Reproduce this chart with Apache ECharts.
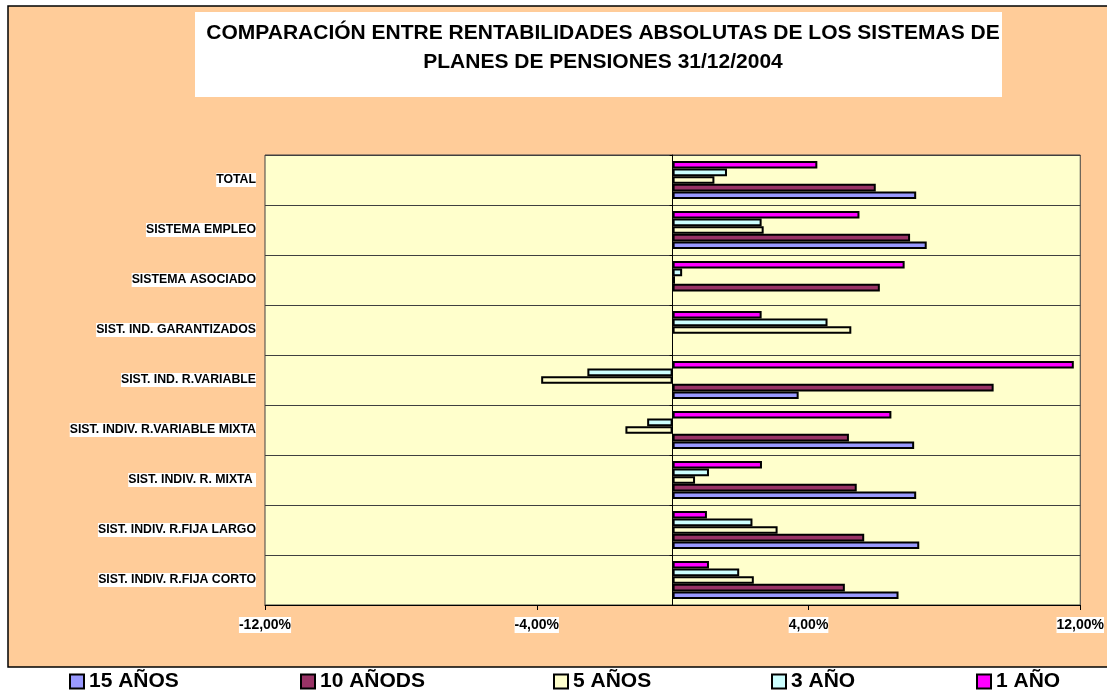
<!DOCTYPE html>
<html>
<head>
<meta charset="utf-8">
<script src="https://cdn.jsdelivr.net/npm/echarts@6/dist/echarts.min.js"></script>
<style>
html,body{margin:0;padding:0;background:#fff;}
#c{width:1107px;height:693px;}
</style>
</head>
<body>
<div id="c"></div>
<script>
var titleText = 'COMPARACIÓN ENTRE RENTABILIDADES ABSOLUTAS DE LOS SISTEMAS DE\nPLANES DE PENSIONES 31/12/2004';
var categories = ['SIST. INDIV. R.FIJA CORTO','SIST. INDIV. R.FIJA LARGO','SIST. INDIV. R. MIXTA ','SIST. INDIV. R.VARIABLE MIXTA','SIST. IND. R.VARIABLE','SIST. IND. GARANTIZADOS','SISTEMA ASOCIADO','SISTEMA EMPLEO','TOTAL'];
var seriesNames = ['15 AÑOS','10 AÑODS','5 AÑOS','3 AÑO','1 AÑO'];
var anos15 = [6.65, 7.26, 7.17, 7.11, 3.71, null, null, 7.48, 7.17];
var anos10 = [5.07, 5.64, 5.42, 5.19, 9.45, null, 6.10, 6.99, 5.98];
var anos5  = [2.39, 3.09, 0.66, -1.39, -3.87, 5.26, 0.07, 2.68, 1.23];
var ano3   = [1.96, 2.35, 1.07, -0.75, -2.51, 4.56, 0.28, 2.62, 1.60];
var ano1   = [1.07, 1.01, 2.63, 6.44, 11.81, 2.62, 6.83, 5.50, 4.26];
var xTicks = {min: -12, max: 12, interval: 8};

var colors = ['#9999FF','#993366','#FFFFCC','#CCFFFF','#FF00FF'];
var values = [anos15, anos10, anos5, ano3, ano1];
var legendLefts = [69, 300, 553, 771, 976];
var FONT = '"Liberation Sans", Arial, sans-serif';

// ECharts lays horizontal bars top-down in series order; reference has 15 AÑOS at bottom
var series = [];
for (var i = seriesNames.length - 1; i >= 0; i--) {
  series.push({
    name: seriesNames[i], type: 'bar', yAxisIndex: 0, data: values[i],
    barGap: '0%', barCategoryGap: '24%',
    itemStyle: {color: colors[i], borderColor: '#000', borderWidth: 2},
    emphasis: {disabled: true}
  });
}

var legends = seriesNames.map(function(n, i){
  return {
    data: [n], left: legendLefts[i], top: 671, padding: 0,
    itemWidth: 14, itemHeight: 14, icon: 'rect', itemStyle: {borderColor: '#000', borderWidth: 2},
    textStyle: {fontFamily: FONT, fontSize: 21, fontWeight: 'bold', color: '#000'}
  };
});

var chart = echarts.init(document.getElementById('c'));
chart.setOption({
  animation: false,
  textStyle: {fontFamily: FONT},
  graphic: [
    {type: 'rect', z: -10, silent: true, shape: {x: 8, y: 6, width: 1110, height: 661},
     style: {fill: '#FFCC99', stroke: '#000', lineWidth: 1.5}},
    {type: 'rect', z: -9, silent: true, shape: {x: 195, y: 12, width: 807, height: 85},
     style: {fill: '#fff'}}
  ],
  title: {
    text: titleText, left: 598, top: 14, textAlign: 'center',
    textStyle: {fontFamily: FONT, fontSize: 21, fontWeight: 'bold', color: '#000', lineHeight: 29}
  },
  legend: legends,
  grid: {left: 265, top: 155, width: 818, height: 450, show: true, backgroundColor: '#FFFFCC', borderColor: '#404040', borderWidth: 1},
  xAxis: {
    type: 'value', min: xTicks.min, max: xTicks.max, interval: xTicks.interval,
    axisLine: {show: true, lineStyle: {color: '#000', width: 1}},
    axisTick: {show: true, length: 5, lineStyle: {color: '#000'}},
    splitLine: {show: false},
    axisLabel: {margin: 12, fontFamily: FONT, fontSize: 14, fontWeight: 'bold', color: '#000', backgroundColor: '#fff', padding: [1,0,1,0],
      formatter: function(v){ return v.toFixed(2).replace('.', ',') + '%'; }}
  },
  yAxis: [
    {type: 'category', data: categories, position: 'left',
     axisLine: {show: false, onZero: false}, axisTick: {show: false},
     splitLine: {show: true, lineStyle: {color: '#404040', width: 1}},
     axisLabel: {margin: 9, fontFamily: FONT, fontSize: 12.3, fontWeight: 'bold', color: '#000', backgroundColor: '#fff', padding: [1,0,1,0]}},
    {type: 'category', data: categories, position: 'left',
     axisLine: {show: true, onZero: true, lineStyle: {color: '#000', width: 1}},
     axisTick: {show: true, length: 3, lineStyle: {color: '#000'}},
     axisLabel: {show: false}, splitLine: {show: false}}
  ],
  series: series
});
</script>
</body>
</html>
